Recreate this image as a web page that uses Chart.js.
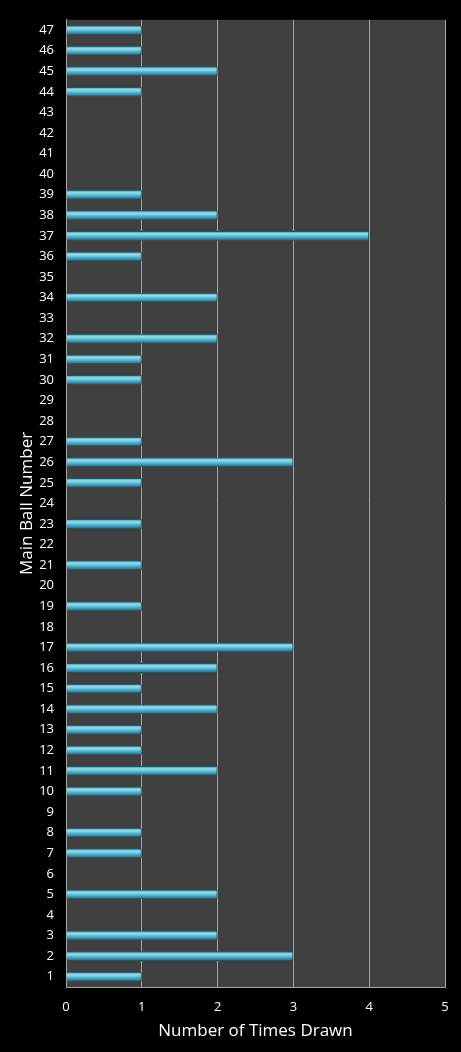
<!DOCTYPE html>
<html>
<head>
<meta charset="utf-8">
<script src="https://cdn.jsdelivr.net/npm/chart.js@4"></script>
<style>
  html, body { margin: 0; padding: 0; background: #000; }
  #wrap { width: 461px; height: 1052px; position: relative; }
</style>
</head>
<body>
<div id="wrap"><canvas id="myChart"></canvas></div>
<script>
// ball numbers, top to bottom as drawn
const ballNumbers = [47, 46, 45, 44, 43, 42, 41, 40, 39, 38, 37, 36, 35, 34, 33, 32,
    31, 30, 29, 28, 27, 26, 25, 24, 23, 22, 21, 20, 19, 18, 17, 16, 15, 14, 13, 12,
    11, 10, 9, 8, 7, 6, 5, 4, 3, 2, 1];
const timesDrawn = [1, 1, 2, 1, 0, 0, 0, 0, 1, 2, 4, 1, 0, 2, 0, 2,
    1, 1, 0, 0, 1, 3, 1, 0, 1, 0, 1, 0, 1, 0, 3, 2, 1, 2, 1, 1,
    2, 1, 0, 1, 1, 0, 2, 0, 2, 3, 1];
const xTicks = [0, 1, 2, 3, 4, 5];

const plotBg = {
    id: 'plotBg',
    beforeDraw(chart) {
        const c = chart.ctx;
        const a = chart.chartArea;
        c.save();
        c.fillStyle = '#000000';
        c.fillRect(0, 0, chart.width, chart.height);
        c.fillStyle = '#404040';
        c.fillRect(a.left, a.top, a.right - a.left, a.bottom - a.top);
        c.restore();
    }
};

// shiny tube look, needs the bar's position so it is filled on the second update
function barFill(context) {
    const el = context.element;
    const chart = context.chart;
    if (!el || el.y === undefined || isNaN(el.y)) return '#4bacc6';
    const h = el.height || 9;
    const g = chart.ctx.createLinearGradient(0, el.y - h / 2, 0, el.y + h / 2);
    g.addColorStop(0, '#2f8fab');
    g.addColorStop(0.3, '#9adcee');
    g.addColorStop(0.6, '#4db3d0');
    g.addColorStop(1, '#1d5f74');
    return g;
}

Chart.defaults.color = '#ffffff';
Chart.defaults.font.family = '"Open Sans", sans-serif';

const chart = new Chart(document.getElementById('myChart'), {
    type: 'bar',
    data: {
        labels: ballNumbers,
        datasets: [{
            data: timesDrawn,
            backgroundColor: barFill,
            borderColor: '#1f5566',
            borderWidth: 1,
            categoryPercentage: 0.48,
            barPercentage: 1.0
        }]
    },
    plugins: [plotBg],
    options: {
        indexAxis: 'y',
        responsive: true,
        maintainAspectRatio: false,
        animation: false,
        layout: { padding: { top: 15, right: 16, left: 17, bottom: 0 } },
        scales: {
            x: {
                min: 0,
                max: 5,
                afterBuildTicks(scale) { scale.ticks = xTicks.map(v => ({ value: v })); },
                grid: { color: '#a6a6a6', lineWidth: 1, drawTicks: false },
                border: { color: '#a6a6a6' },
                ticks: { color: '#ffffff', font: { size: 13 }, padding: 12 },
                title: { display: true, text: 'Number of Times Drawn', color: '#ffffff',
                    font: { size: 17 }, padding: { top: 0, bottom: 11 } },
                afterFit(scale) { scale.height = 65; }
            },
            y: {
                grid: { display: false, drawTicks: false },
                border: { color: '#a6a6a6' },
                ticks: { color: '#ffffff', font: { size: 13 }, padding: 12, autoSkip: false },
                title: { display: true, text: 'Main Ball Number', color: '#ffffff',
                    font: { size: 17 }, padding: { top: 0, bottom: 2 } },
                afterFit(scale) { scale.width = 49; }
            }
        },
        plugins: {
            legend: { display: false },
            tooltip: { enabled: false }
        }
    }
});
chart.update();
</script>
</body>
</html>
